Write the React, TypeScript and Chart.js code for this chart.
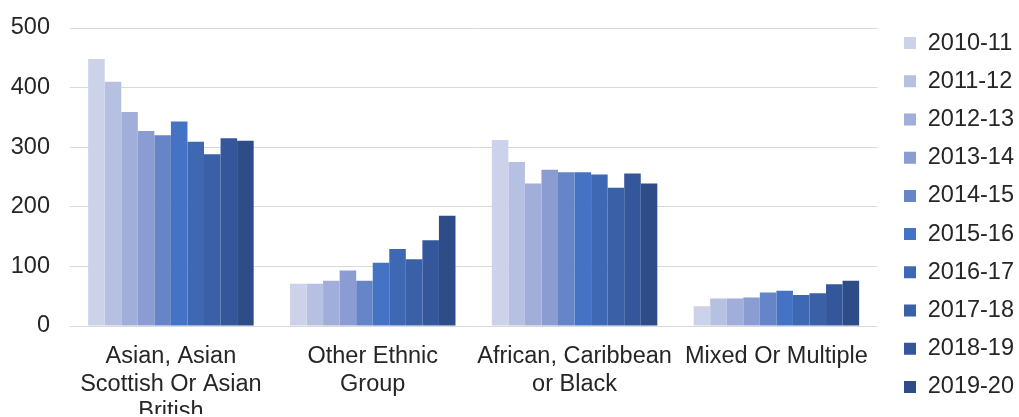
import React, { useEffect, useRef } from "react";
import { Chart, registerables } from "chart.js";

Chart.register(...registerables);

// Ethnic groups shown along the x axis (multi-line labels)
const categories: string[][] = [
  ["Asian, Asian", "Scottish Or Asian", "British"],
  ["Other Ethnic", "Group"],
  ["African, Caribbean", "or Black"],
  ["Mixed Or Multiple"],
];

// Financial years, one series each
const years = [
  "2010-11", "2011-12", "2012-13", "2013-14", "2014-15",
  "2015-16", "2016-17", "2017-18", "2018-19", "2019-20",
];

// Values per group, ordered by year
const asianValues = [448, 410, 359, 327, 320, 343, 309, 288, 315, 311];
const otherValues = [71, 71, 76, 93, 76, 106, 129, 112, 144, 185];
const africanValues = [312, 275, 239, 262, 258, 258, 254, 232, 256, 239];
const mixedValues = [33, 46, 46, 48, 56, 59, 52, 55, 70, 76];

const yTicks = [0, 100, 200, 300, 400, 500];

const yearColors = [
  "#CBD2E9", "#B6C1E1", "#A0AED9", "#8A9CD1", "#6585C8",
  "#4472C4", "#3F68B4", "#3A60A7", "#34569A", "#2E4C88",
];

const FONT = "'Liberation Sans', Arial, Helvetica, sans-serif";
const FONT_SIZE = 23.5;
const TEXT = "#262626";
const WIDTH = 1019;
const HEIGHT = 417;

export default function App() {
  const canvasRef = useRef<HTMLCanvasElement | null>(null);

  useEffect(() => {
    const canvas = canvasRef.current;
    if (!canvas) return;
    const groups = [asianValues, otherValues, africanValues, mixedValues];
    const datasets = years.map((year, i) => ({
      label: year,
      data: groups.map((g) => g[i]),
      backgroundColor: yearColors[i],
      borderWidth: 0,
      categoryPercentage: 0.82,
      barPercentage: 1,
    }));

    const chart = new Chart(canvas, {
      type: "bar",
      data: { labels: categories, datasets },
      options: {
        animation: false,
        responsive: false,
        maintainAspectRatio: false,
        devicePixelRatio: 1,
        layout: { padding: { top: 16, bottom: 3, left: 0, right: -5 } },
        plugins: {
          tooltip: { enabled: false },
          legend: {
            position: "right",
            align: "center",
            labels: {
              boxWidth: 12,
              boxHeight: 12,
              padding: 14.7,
              color: TEXT,
              font: { family: FONT, size: FONT_SIZE },
            },
          },
        },
        scales: {
          x: {
            grid: { display: false, drawTicks: false },
            border: { display: false },
            ticks: {
              color: TEXT,
              padding: 17,
              maxRotation: 0,
              autoSkip: false,
              font: { family: FONT, size: FONT_SIZE, lineHeight: 1.17 },
            },
            afterFit: (scale: any) => {
              scale.height = 88;
            },
          },
          // empty strip above the plot
          topGap: {
            type: "linear",
            position: "top",
            display: true,
            grid: { display: false, drawTicks: false },
            border: { display: false },
            ticks: { display: false },
            afterFit: (scale: any) => {
              scale.height = 12;
            },
          },
          y: {
            min: 0,
            max: 500,
            afterBuildTicks: (scale: any) => {
              scale.ticks = yTicks.map((v) => ({ value: v }));
            },
            grid: {
              color: "#D9D9D9",
              lineWidth: 1,
              drawTicks: true,
              tickLength: 20,
              tickColor: "rgba(0,0,0,0)",
            },
            border: { display: false },
            ticks: {
              color: TEXT,
              padding: 0,
              font: { family: FONT, size: FONT_SIZE },
            },
            afterFit: (scale: any) => {
              scale.width = 70;
            },
          },
          // empty strip between the plot and the legend
          rightGap: {
            type: "linear",
            position: "right",
            display: true,
            grid: { display: false, drawTicks: false },
            border: { display: false },
            ticks: { display: false },
            afterFit: (scale: any) => {
              scale.width = 12;
            },
          },
        },
      },
    });
    return () => chart.destroy();
  }, []);

  return (
    <div
      style={{
        position: "absolute",
        left: 0,
        top: 0,
        width: WIDTH,
        height: HEIGHT,
        background: "#ffffff",
      }}
    >
      <canvas
        ref={canvasRef}
        width={WIDTH}
        height={HEIGHT}
        style={{ display: "block", width: WIDTH, height: HEIGHT }}
      />
    </div>
  );
}
